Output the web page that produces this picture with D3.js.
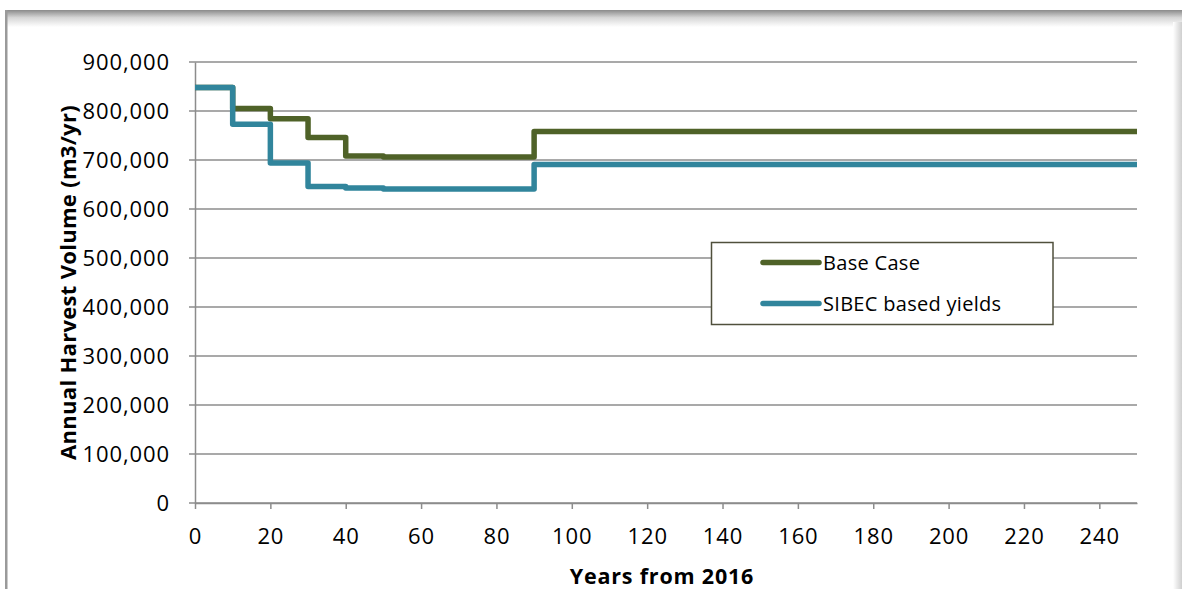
<!DOCTYPE html>
<html>
<head>
<meta charset="utf-8">
<script src="https://cdn.jsdelivr.net/npm/d3@7"></script>
<style>
  html, body { margin: 0; padding: 0; background: #fff; }
  svg { display: block; }
  text { font-family: "Open Sans", sans-serif; fill: #000; }
</style>
</head>
<body>
<svg id="chart" width="1182" height="589"></svg>
<script>
// Annual harvest volume projections (m3/yr), stepped by decade
const baseYears   = [0, 10, 20, 30, 40, 50, 90, 250];
const baseValues  = [848000, 805000, 784000, 746000, 708000, 706000, 758000, 758000];
const sibecYears  = [0, 10, 20, 30, 40, 50, 90, 250];
const sibecValues = [848000, 773000, 694000, 646000, 643000, 641000, 691000, 691000];
const xTicks = [0, 20, 40, 60, 80, 100, 120, 140, 160, 180, 200, 220, 240];
const yTicks = [0, 100000, 200000, 300000, 400000, 500000, 600000, 700000, 800000, 900000];
const seriesNames = ["Base Case", "SIBEC based yields"];
const seriesColors = ["#4f6228", "#31859c"];

const svg = d3.select("#chart");
const W = 1182, H = 589;

// page frame: shaded top edge, left rule, soft right edge
const defs = svg.append("defs");
const topGrad = defs.append("linearGradient").attr("id", "topShade")
  .attr("x1", 0).attr("y1", 0).attr("x2", 0).attr("y2", 1);
topGrad.append("stop").attr("offset", 0).attr("stop-color", "#8a8a8a");
topGrad.append("stop").attr("offset", 0.45).attr("stop-color", "#d6d6d6");
topGrad.append("stop").attr("offset", 1).attr("stop-color", "#ffffff");
const rightGrad = defs.append("linearGradient").attr("id", "rightShade")
  .attr("x1", 0).attr("y1", 0).attr("x2", 1).attr("y2", 0);
rightGrad.append("stop").attr("offset", 0).attr("stop-color", "#ffffff");
rightGrad.append("stop").attr("offset", 1).attr("stop-color", "#cfcfcf");

svg.append("rect").attr("x", 5).attr("y", 10).attr("width", W - 5).attr("height", 17)
  .attr("fill", "url(#topShade)");
svg.append("rect").attr("x", 1173).attr("y", 22).attr("width", 9).attr("height", H - 22)
  .attr("fill", "url(#rightShade)");
svg.append("rect").attr("x", 5).attr("y", 10).attr("width", 2.5).attr("height", H - 10)
  .attr("fill", "#9a9a9a");

const m = { left: 195, right: 1137, top: 62, bottom: 503 };
const x = d3.scaleLinear().domain([0, 250]).range([m.left, m.right]);
const y = d3.scaleLinear().domain([0, 900000]).range([m.bottom, m.top]);

const gridColor = "#8c8c8c";
const tickFont = { size: 22, spacing: 0.9 };

// horizontal gridlines with left tick stubs
svg.append("g").selectAll("line").data(yTicks).join("line")
  .attr("x1", m.left - 6).attr("x2", m.right)
  .attr("y1", d => y(d)).attr("y2", d => y(d))
  .attr("stroke", gridColor).attr("stroke-width", 1.5);

// y axis
const yAxis = svg.append("g").attr("transform", `translate(${m.left},0)`)
  .call(d3.axisLeft(y).tickValues(yTicks).tickSize(0).tickPadding(25)
    .tickFormat(d3.format(",")));
yAxis.select(".domain").attr("stroke", gridColor).attr("stroke-width", 1.5);
yAxis.selectAll("text")
  .attr("font-size", tickFont.size).attr("font-family", "Open Sans")
  .attr("letter-spacing", tickFont.spacing);

// x axis
const xAxis = svg.append("g").attr("transform", `translate(0,${m.bottom})`)
  .call(d3.axisBottom(x).tickValues(xTicks).tickSize(6).tickSizeOuter(0).tickPadding(19));
xAxis.select(".domain").attr("stroke", gridColor).attr("stroke-width", 1.5);
xAxis.selectAll(".tick line").attr("stroke", gridColor).attr("stroke-width", 1.5);
xAxis.selectAll("text")
  .attr("font-size", tickFont.size).attr("font-family", "Open Sans")
  .attr("letter-spacing", tickFont.spacing);

// stepped series lines
const line = d3.line().x(d => x(d[0])).y(d => y(d[1])).curve(d3.curveStepAfter);
const series = [
  d3.zip(baseYears, baseValues),
  d3.zip(sibecYears, sibecValues)
];
svg.append("g").selectAll("path").data(series).join("path")
  .attr("d", line)
  .attr("fill", "none")
  .attr("stroke", (d, i) => seriesColors[i])
  .attr("stroke-width", 5.5)
  .attr("stroke-linejoin", "round")
  .attr("stroke-linecap", "butt");

// axis titles
svg.append("text")
  .attr("transform", `translate(76,${(m.top + m.bottom) / 2}) rotate(-90)`)
  .attr("text-anchor", "middle")
  .attr("font-size", 22).attr("font-weight", "bold").attr("letter-spacing", 0.3)
  .text("Annual Harvest Volume (m3/yr)");
svg.append("text")
  .attr("x", 662).attr("y", 584)
  .attr("text-anchor", "middle")
  .attr("font-size", 21.5).attr("font-weight", "bold").attr("letter-spacing", 0.8)
  .text("Years from 2016");

// legend
const lg = svg.append("g");
lg.append("rect").attr("x", 711.5).attr("y", 242.5).attr("width", 341.5).attr("height", 82)
  .attr("fill", "#fff").attr("stroke", "#50503c").attr("stroke-width", 1.5);
const items = lg.selectAll("g.item").data(seriesNames).join("g")
  .attr("class", "item")
  .attr("transform", (d, i) => `translate(0,${262.5 + i * 41})`);
items.append("line").attr("x1", 763).attr("x2", 819).attr("y1", 0).attr("y2", 0)
  .attr("stroke", (d, i) => seriesColors[i]).attr("stroke-width", 5.5)
  .attr("stroke-linecap", "round");
items.append("text").attr("x", 823).attr("y", 7.5)
  .attr("font-size", 20).attr("letter-spacing", 0.3).text(d => d);
</script>
</body>
</html>
